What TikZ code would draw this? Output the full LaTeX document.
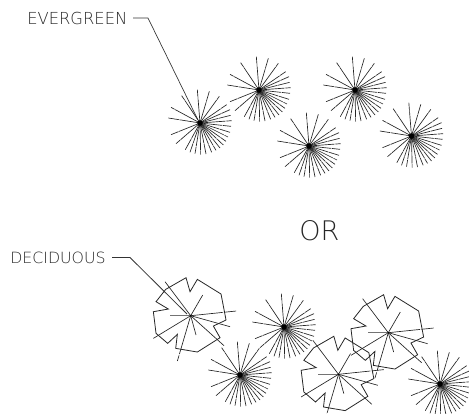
\documentclass[tikz,border=0pt]{standalone}
\usepackage{fontspec}
\setmainfont{Open Sans}
\newfontfamily\thinfont{DejaVu Sans ExtraLight}
\tikzset{
  px/.style={x=0.75pt,y=-0.75pt},
  ray/.style={line width=0.5pt,draw=black!85},
  outline/.style={line width=0.6pt,draw=black!85,line join=miter},
  leader/.style={line width=0.5pt,draw=black!80},
  lettering/.style={inner sep=0pt,text=black!85,font=\thinfont},
  pics/burst/.style={code={
    \foreach \a/\b [count=\i] in {-55/-82,-8/-100,28/-95,58/-80,80/-55,90/-40,92/-23,95/-7,93/10,90/28,84/42,78/55,70/66,60/75,48/82,35/88,18/93,2/95,-15/92,-30/88,-44/80,-72/62,-87/35,-95/-15,-87/-47}
      {\draw[ray,dash pattern=on 9pt off 0.5pt on 60pt off 0pt,dash phase={mod(\i*5,7)}] (\a/3,\b/3) -- (0,0);}
    \fill[black] (0,0) circle[radius=2.8];
  }},
  pics/leafy/.style={code={
    \draw[outline] (-75,-79) -- (-14,-114) -- (-2,-72) -- (20,-109) -- (91,-65) -- (106,13) -- (68,31) -- (88,66) -- (20,109) -- (-45,98) -- (-40,56) -- (-69,83) -- (-104,53) -- (-112,-12) -- (-67,-20) -- (-104,-42) -- cycle;
    \draw[ray] (0,0) -- (-77,-102);
    \draw[ray] (0,0) -- (36,-62);
    \draw[ray,line width=0.7pt,draw=black!55] (0,0) -- (-62,0);
    \draw[ray,dash pattern=on 24pt off 1pt on 60pt off 0pt] (0,0) -- (136,-14);
    \draw[ray] (0,0) -- (118,33);
    \draw[ray] (0,0) -- (100,90);
    \draw[ray] (0,0) -- (16,58);
    \draw[ray,dash pattern=on 30pt off 1pt on 60pt off 0pt] (0,0) -- (-40,136);
    \draw[ray] (0,0) -- (-112,68);
    \fill[black] (0,0) circle[radius=2.5];
  }}
}
\begin{document}
\begin{tikzpicture}[px]
\useasboundingbox (0,0) rectangle (469,414);
\node[lettering,anchor=west] (evg) at (27,18.5) {\resizebox{75pt}{9.2pt}{EVERGREEN}};
\node[lettering,anchor=west] (dec) at (10,257.5) {\resizebox{71.5pt}{8.6pt}{DECIDUOUS}};
\node[lettering,anchor=center] (orl) at (319.5,231) {\resizebox{30pt}{15pt}{OR}};
\coordinate (evgbend) at (148,18);
\coordinate (evgstart) at (133,18);
\coordinate (evgend) at (198,120);
\coordinate (decbend) at (130,257.5);
\coordinate (decstart) at (112,257.5);
\coordinate (decend) at (187,314);
\draw[leader] (evgstart) -- (evgbend) -- (evgend);
\draw[leader,line width=0.6pt] (decstart) -- (decbend) -- (decend);
\foreach \n/\p in {e1/{(200,123)},e2/{(259,90)},e3/{(355,90)},e4/{(309,146)},e5/{(411.5,136)},e6/{(284,327)},e7/{(240,375)},e8/{(440,384)}}
  {\pic (\n) at \p {burst};}
\foreach \n/\p in {d1/{(190.7,315.7)},d2/{(388.3,332.7)},d3/{(338.5,374.3)}}
  {\pic[scale=1/3] (\n) at \p {leafy};}
\end{tikzpicture}
\end{document}
